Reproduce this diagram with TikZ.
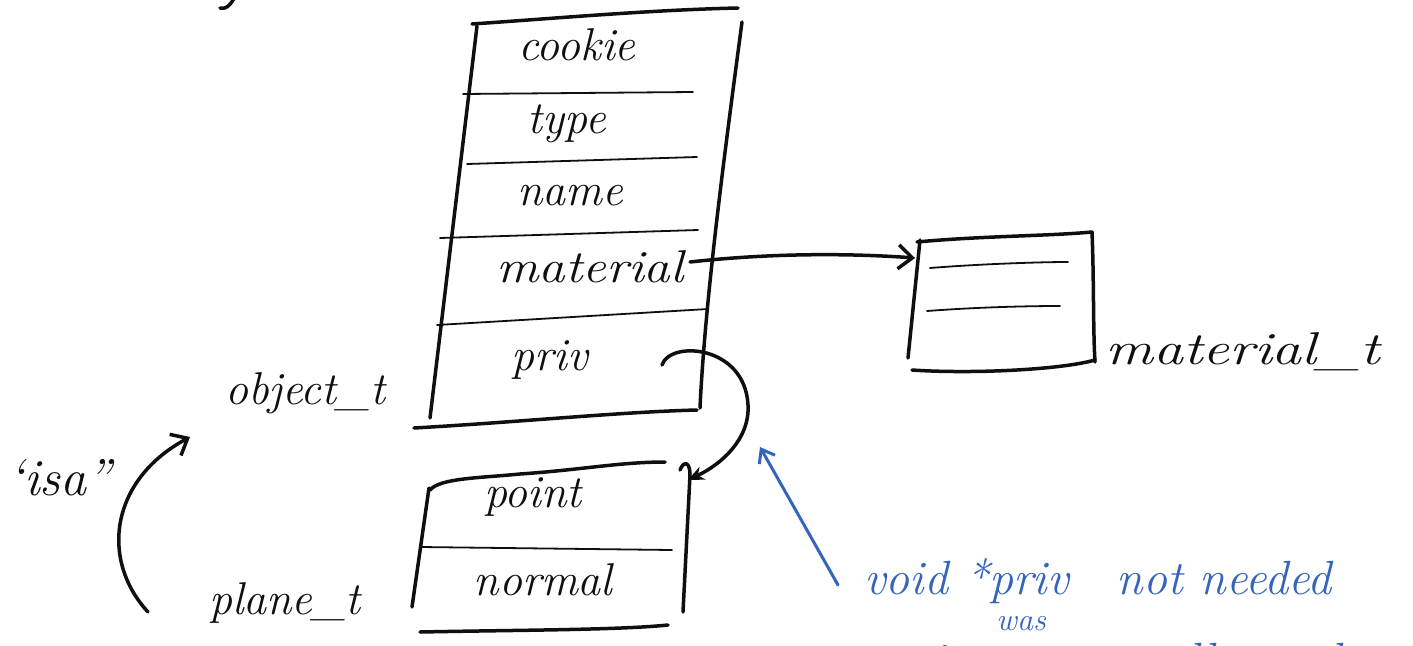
\documentclass[tikz,border=0pt]{standalone}
\usetikzlibrary{arrows.meta}
\definecolor{pen}{RGB}{15,15,15}
\definecolor{bluepen}{RGB}{52,100,188}
\tikzset{
  ink/.style={draw=pen, line width=3.5pt, line cap=round, line join=round},
  thin ink/.style={draw=pen, line width=1.8pt, line cap=round},
  hand/.style={font=\fontsize{46}{50}\selectfont\itshape, text=pen, inner sep=0pt},
  bluehand/.style={font=\fontsize{48}{52}\selectfont\itshape, text=bluepen, inner sep=0pt},
  smallblue/.style={font=\fontsize{32}{34}\selectfont\itshape, text=bluepen, inner sep=0pt},
  openarrow/.style={-{Straight Barb[length=14pt,width=24pt,line width=3.5pt]}},
  bluearrow/.style={draw=bluepen, line width=3pt, line cap=round, -{Straight Barb[length=12pt,width=18pt,line width=3pt]}},
}
\begin{document}
\begin{tikzpicture}[x=1pt,y=-1pt]
\useasboundingbox (0,0) rectangle (1413,645);
\fill[white] (0,0) rectangle (1413,645);
\begin{scope}
\clip (0,0) rectangle (1413,645);

% partial glyph at top-left
\draw[ink] (236,-6) .. controls (232,4) and (226,10) .. (220,8);

% ---------- object_t box ----------
\draw[ink] (472,24) .. controls (560,18) and (650,10) .. (738,8);
\draw[ink] (477,26) -- (430,418);
\draw[ink] (742,22) .. controls (725,150) and (705,300) .. (700,408);
\draw[ink] (414,428) .. controls (520,422) and (620,412) .. (697,410);
\draw[thin ink] (463,94) -- (693,92);
\draw[thin ink] (467,164) -- (697,157);
\draw[thin ink] (440,238) -- (698,230);
\draw[thin ink] (437,325) -- (708,309);

\node[hand] (cookie) at (577,45) {cookie};
\node[hand] (type) at (567,124) {type};
\node[hand] (name) at (570,196) {name};
\node[hand, xscale=1.15] (material) at (590,267) {material};
\node[hand] (priv) at (550,360) {priv};
\node[hand] (objlabel) at (305,393) {object\_t};

% ---------- plane_t box ----------
\draw[ink] (430,490) .. controls (440,478) and (480,478) .. (520,474)
           .. controls (580,470) and (620,462) .. (665,462);
\draw[ink] (429,488) -- (412,607);
\draw[ink] (680,470) .. controls (684,460) and (690,462) .. (690,475) -- (683,612);
\draw[thin ink] (420,547) -- (672,550);
\draw[ink] (420,632) .. controls (520,630) and (620,630) .. (668,625);
\node[hand] (point) at (533,497) {point};
\node[hand] (normal) at (543,580) {normal};
\node[hand] (planelabel) at (285,603) {plane\_t};

% ---------- material_t box ----------
\node[minimum width=180pt, minimum height=135pt, inner sep=0pt] (mbox) at (1002,302) {};
\draw[ink] (917,242) .. controls (980,236) and (1050,236) .. (1092,232);
\draw[ink] (920,240) -- (908,358);
\draw[ink] (1092,232) .. controls (1094,280) and (1093,330) .. (1095,362);
\draw[ink] (912,370) .. controls (970,374) and (1060,370) .. (1095,360);
\draw[thin ink] (930,268) .. controls (980,264) and (1040,262) .. (1068,262);
\draw[thin ink] (927,311) .. controls (980,307) and (1030,306) .. (1060,306);
\node[hand, anchor=west, xscale=1.3] (mlabel) at (1105,352) {material\_t};

% ---------- arrows ----------
\coordinate (matstart) at (690,262);
\coordinate (matend) at (915,258);
\draw[ink, openarrow] (matstart) .. controls (780,252) and (860,254) .. (matend);

\coordinate (privstart) at (662,365);
\coordinate (privend) at (688,480);
\draw[ink, -{Stealth[length=16pt,width=14pt]}] (privstart) .. controls (670,340) and (745,345) .. (748,405)
     .. controls (750,440) and (720,465) .. (privend);

% isa arrow
\coordinate (isastart) at (148,612);
\coordinate (isaend) at (190,437);
\draw[ink, openarrow] (isastart) .. controls (100,560) and (110,480) .. (isaend);
\node[hand, font=\fontsize{52}{56}\selectfont\itshape] (isa) at (60,478) {`isa''};

% ---------- blue note ----------
\coordinate (notestart) at (838,585);
\coordinate (noteend) at (760,447);
\draw[bluearrow] (notestart) -- (noteend);
\node[bluehand, anchor=base west] (note1) at (864,594) {void *priv\quad not needed};
\node[smallblue, anchor=base west] (was) at (996,630) {was};
\node[bluehand, anchor=base west] (note2) at (930,676) {it\ \ not actually used};
\end{scope}
\end{tikzpicture}
\end{document}
